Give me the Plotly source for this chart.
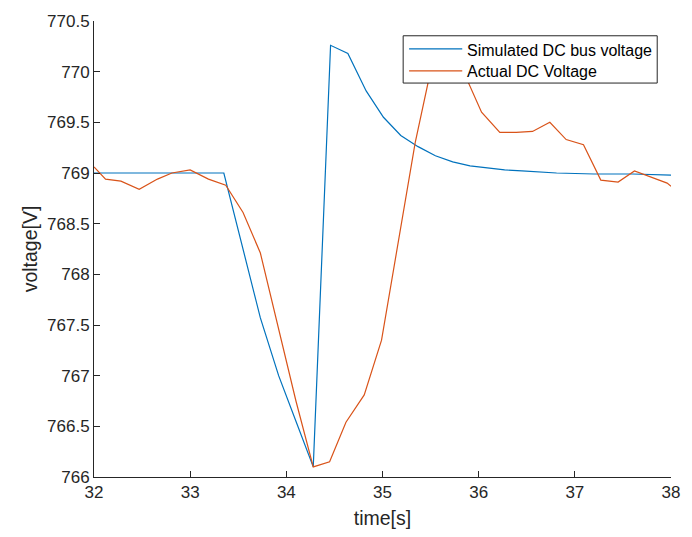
import plotly.graph_objects as go

# Simulated DC bus voltage
sim_t = [32.0, 33.35, 33.73, 33.92, 34.10, 34.28, 34.46, 34.64, 34.83, 35.01, 35.19,
         35.37, 35.55, 35.73, 35.91, 36.09, 36.27, 36.45, 36.63, 36.81, 37.2, 37.6, 38.0]
sim_v = [769.0, 769.0, 767.57, 767.0, 766.55, 766.1, 770.26, 770.18, 769.81, 769.55, 769.37,
         769.26, 769.17, 769.11, 769.07, 769.05, 769.03, 769.02, 769.01, 769.0, 768.99, 768.99, 768.98]

# Actual DC voltage
act_t = [32.0, 32.12, 32.28, 32.47, 32.66, 32.81, 33.0, 33.19, 33.37, 33.55, 33.73,
         33.92, 34.10, 34.28, 34.45, 34.62, 34.81, 34.99, 35.15, 35.34, 35.51, 35.70,
         35.88, 36.03, 36.22, 36.39, 36.56, 36.74, 36.91, 37.09, 37.27, 37.45, 37.62,
         37.79, 37.96, 38.0]
act_v = [769.06, 768.94, 768.92, 768.84, 768.94, 769.0, 769.03, 768.94, 768.88, 768.61, 768.21,
         767.45, 766.75, 766.1, 766.15, 766.54, 766.81, 767.35, 768.23, 769.3, 770.05, 770.1,
         769.92, 769.6, 769.40, 769.40, 769.41, 769.50, 769.33, 769.28, 768.93, 768.91, 769.02,
         768.96, 768.90, 768.87]

series_names = ["Simulated DC bus voltage", "Actual DC Voltage"]
series_colors = ["#0072BD", "#D95319"]

x_ticks = [32, 33, 34, 35, 36, 37, 38]
x_labels = ["32", "33", "34", "35", "36", "37", "38"]
y_ticks = [766, 766.5, 767, 767.5, 768, 768.5, 769, 769.5, 770, 770.5]
y_labels = ["766", "766.5", "767", "767.5", "768", "768.5", "769", "769.5", "770", "770.5"]

FONT = "Liberation Sans, Arial, Helvetica, sans-serif"
AX = "#262626"

fig = go.Figure()
for t, v, nm, col in [(sim_t, sim_v, series_names[0], series_colors[0]),
                      (act_t, act_v, series_names[1], series_colors[1])]:
    fig.add_trace(go.Scatter(x=t, y=v, mode="lines", name=nm,
                             line=dict(color=col, width=1.2), showlegend=False))

axis_common = dict(showline=True, linecolor=AX, linewidth=1, ticks="inside", ticklen=6,
                   tickcolor=AX, tickwidth=1, showgrid=False, zeroline=False, mirror=False,
                   tickfont=dict(family=FONT, size=17, color=AX))

# Legend box drawn in plot-area (paper) coordinates, above the data lines
box_x0, box_x1, box_y0, box_y1 = 0.5358, 0.9761, 0.8639, 0.9676
line_x0, line_x1 = 0.5461, 0.6382
line_rows = [0.9389, 0.8905]
text_x = 0.6433
text_rows = [0.9363, 0.8883]

shapes = [dict(type="rect", xref="paper", yref="paper", x0=box_x0, x1=box_x1, y0=box_y0, y1=box_y1,
               fillcolor="white", line=dict(color=AX, width=1), layer="above")]
annotations = []
for i in range(2):
    shapes.append(dict(type="line", xref="paper", yref="paper", x0=line_x0, x1=line_x1,
                       y0=line_rows[i], y1=line_rows[i], line=dict(color=series_colors[i], width=1.2),
                       layer="above"))
    annotations.append(dict(xref="paper", yref="paper", x=text_x, y=text_rows[i], text=series_names[i],
                            showarrow=False, xanchor="left", yanchor="middle",
                            font=dict(family=FONT, size=16, color="black")))

fig.update_layout(
    width=692, height=537,
    margin=dict(l=94, r=12, t=16, b=58),
    paper_bgcolor="white", plot_bgcolor="white",
    font=dict(family=FONT, color=AX),
    xaxis=dict(range=[32, 38], tickvals=x_ticks, ticktext=x_labels,
               title=dict(text="time[s]", font=dict(family=FONT, size=19.5, color=AX), standoff=9),
               **axis_common),
    yaxis=dict(range=[766, 770.5], tickvals=y_ticks, ticktext=y_labels,
               title=dict(text="voltage[V]", font=dict(family=FONT, size=19.5, color=AX), standoff=4),
               **axis_common),
    shapes=shapes,
    annotations=annotations,
    showlegend=False,
)

fig.write_html("out.html")
